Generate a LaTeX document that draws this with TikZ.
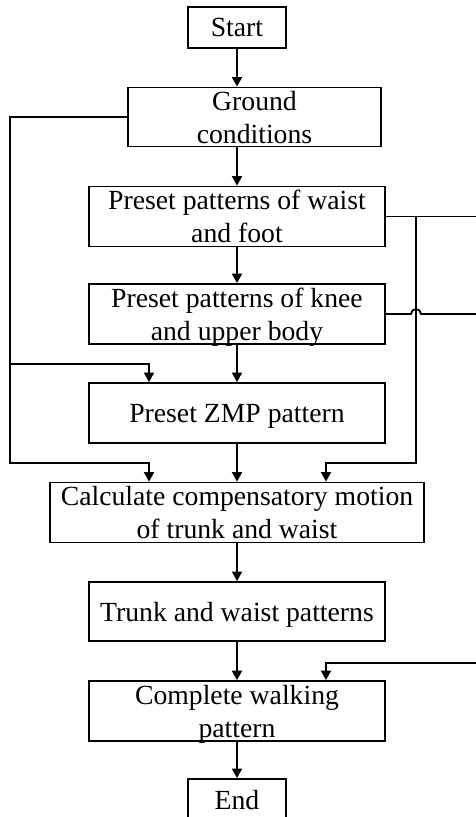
\documentclass[tikz,border=0pt]{standalone}
\usepackage{fontspec}
\setmainfont{Liberation Serif}
\usetikzlibrary{arrows.meta,positioning}

\tikzset{
  flowbox/.style={draw, line width=1.8pt, align=center, inner sep=0pt, text depth=0pt,
    minimum width=296, minimum height=60},
  endbox/.style={flowbox, minimum width=98, minimum height=41},
  feed/.style={line width=1.8pt}
}

\begin{document}
\begin{tikzpicture}[x=1pt, y=-1pt, feed,
  >={Triangle[width=10pt,length=9.5pt]}, font=\fontsize{27.7}{33}\selectfont]

\useasboundingbox (0,0) rectangle (476,817);

% main column
\node [endbox] (start) at (237,27.5) {Start};
\node [flowbox, minimum width=253, minimum height=59] (ground) at (254.5,117) {Ground\\conditions};
\node [flowbox] (waist) at (237,216.5) {Preset patterns of waist\\and foot};
\node [flowbox] (knee) at (237,314) {Preset patterns of knee\\and upper body};
\node [flowbox] (zmp) at (237,413) {Preset ZMP pattern};
\node [flowbox, minimum width=374] (calc) at (237,512.5) {Calculate compensatory motion\\of trunk and waist};
\node [flowbox, minimum height=59] (trunk) at (237,611.5) {Trunk and waist patterns};
\node [flowbox] (walk) at (237,711) {Complete walking\\pattern};
\node [endbox] (end) at (237,799.5) {End};

% rails and taps
\coordinate (rail-l) at (10,463);
\coordinate (tap-l) at (149,364);
\coordinate (rail-r) at (416,463);
\coordinate (tap-r) at (326,663);
\coordinate (edge) at (476,0);

\foreach \a/\b in {start/ground,ground/waist,waist/knee,knee/zmp,zmp/calc,calc/trunk,trunk/walk,walk/end}
  \draw [feed, ->] (\a.south -| start) -- (\b.north -| start);

% ground conditions feed
\draw [feed, ->] (ground.west) -| (rail-l) -| (calc.north -| tap-l);
\draw [feed, ->] (rail-l |- tap-l) -- (tap-l) -- (zmp.north -| tap-l);

% waist/foot and knee/body feeds
\draw [feed] (waist.east) -- (waist.east -| edge);
\draw [feed, ->] (waist.east -| rail-r) -- (rail-r) -| (calc.north -| tap-r);
\draw [feed] (knee.east) -- ([xshift=-5pt]knee.east -| rail-r)
  arc [start angle=180, end angle=0, radius=5pt] -- (knee.east -| edge);
\draw [feed, ->] (tap-r -| edge) -- (tap-r) -- (walk.north -| tap-r);

\end{tikzpicture}
\end{document}
